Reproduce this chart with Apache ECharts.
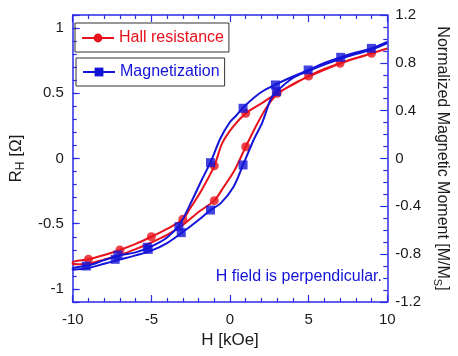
<!DOCTYPE html>
<html><head><meta charset="utf-8">
<script src="https://cdn.jsdelivr.net/npm/echarts@6/dist/echarts.min.js"></script>
<style>html,body{margin:0;padding:0;background:#fff}#c{width:458px;height:356px}</style>
</head><body><div id="c"></div>
<script>
// Hall resistance loop (left axis, Ohm)
const hallDownH = [10, 9, 8, 7, 6, 5, 4, 3, 2, 1, 0.2, -0.5, -1, -1.8, -2.6, -3, -4, -5, -6, -7, -8, -9, -10];
const hallDownR = [0.844, 0.806, 0.77, 0.73, 0.686, 0.632, 0.567, 0.50, 0.423, 0.346, 0.244, 0.116, -0.057, -0.241, -0.395, -0.466, -0.54, -0.60, -0.655, -0.701, -0.74, -0.772, -0.793];
const hallUpH = [-10, -9, -8, -7, -6, -5, -4, -3, -2, -1, -0.4, 0.3, 1, 1.75, 2.35, 3, 4, 5, 6, 7, 8, 9, 10];
const hallUpR = [-0.81, -0.806, -0.775, -0.74, -0.695, -0.644, -0.586, -0.51, -0.41, -0.323, -0.218, -0.088, 0.09, 0.27, 0.397, 0.492, 0.571, 0.628, 0.68, 0.728, 0.768, 0.805, 0.843];
const hallMarkH = [9, 7, 5, 3, 1, -1, -3, -5, -7, -9, -1, 1];
const hallMarkR = [0.806, 0.73, 0.632, 0.50, 0.346, -0.057, -0.466, -0.60, -0.701, -0.772, -0.323, 0.09];

// Magnetization loop (right axis, M/Ms)
const magDownH = [10, 9, 8, 7, 6, 5, 4, 3, 2, 1, 0.4, 0, -0.6, -1.25, -1.8, -2.4, -3.2, -4, -5, -6, -7, -8, -9, -10];
const magDownM = [0.974, 0.921, 0.886, 0.846, 0.80, 0.74, 0.686, 0.625, 0.556, 0.447, 0.36, 0.305, 0.171, -0.035, -0.18, -0.347, -0.55, -0.66, -0.735, -0.785, -0.81, -0.85, -0.895, -0.916];
const magUpH = [-10, -9, -8, -7, -6, -5, -4, -3, -2, -1.24, -0.6, 0.23, 0.83, 1.5, 2.05, 2.6, 3, 4, 5, 6, 7, 8, 9, 10];
const magUpM = [-0.93, -0.915, -0.88, -0.845, -0.81, -0.77, -0.707, -0.615, -0.514, -0.431, -0.375, -0.236, -0.054, 0.155, 0.30, 0.50, 0.565, 0.673, 0.732, 0.785, 0.832, 0.873, 0.911, 0.966];
const magMarkH = [8.99, 7.04, 4.97, 2.89, 0.83, -1.24, -3.25, -5.26, -7.12, -9.14, -7.3, -5.2, -3.1, -1.24, 0.83, 2.95];
const magMarkM = [0.921, 0.846, 0.74, 0.615, 0.42, -0.035, -0.57, -0.742, -0.807, -0.899, -0.843, -0.76, -0.62, -0.431, -0.054, 0.559];

// Tick label settings
const leftTicks = [-1, -0.5, 0, 0.5, 1];
const rightTicks = [-1.2, -0.8, -0.4, 0, 0.4, 0.8, 1.2];
const xTicks = [-10, -5, 0, 5, 10];

const FONT = '"Liberation Sans", Arial, sans-serif';
const RED = '#e8121c', BLUE = '#1414d8', AXIS = '#2b2be6', TXT = '#1a1a1a';
const zip = (a, b) => a.map((v, i) => [v, b[i]]);
const hallLoop = zip(hallDownH, hallDownR).concat(zip(hallUpH, hallUpR));
const magLoop = zip(magDownH, magDownM).concat(zip(magUpH, magUpM));

const chart = echarts.init(document.getElementById('c'));
const axLine = {show: true, onZero: false, lineStyle: {color: AXIS, width: 1.5}};
const majTick = {show: true, inside: true, length: 7, lineStyle: {color: AXIS, width: 1.2}};
const minTickX = {show: true, splitNumber: 5, length: 4, lineStyle: {color: AXIS, width: 1.2}};
const near = (v, arr) => arr.some(t => Math.abs(t - v) < 1e-6);

chart.setOption({
  animation: false,
  backgroundColor: '#fff',
  grid: {left: 59, right: 68, top: 15, bottom: 54, containLabel: false},
  legend: [
    {data: ['Hall resistance'], left: 75, top: 23, orient: 'horizontal', itemWidth: 32, itemHeight: 11,
     padding: [7, 5, 6, 6], borderColor: '#333', borderWidth: 1, selectedMode: false,
     textStyle: {color: RED, fontSize: 16, fontFamily: FONT}},
    {data: ['Magnetization'], left: 76, top: 58, orient: 'horizontal', itemWidth: 32, itemHeight: 11,
     padding: [6, 5, 6, 6], borderColor: '#333', borderWidth: 1, selectedMode: false,
     textStyle: {color: BLUE, fontSize: 16, fontFamily: FONT}}
  ],
  xAxis: [
    {type: 'value', position: 'bottom', min: -10, max: 10, interval: 5,
     axisLine: axLine, axisTick: majTick, minorTick: minTickX, splitLine: {show: false},
     axisLabel: {fontSize: 15, fontFamily: FONT, color: TXT, margin: 10,
       formatter: v => near(v, xTicks) ? String(v) : ''},
     name: 'H [kOe]', nameLocation: 'middle', nameGap: 23,
     nameTextStyle: {fontSize: 17, fontFamily: FONT, color: TXT}},
    {type: 'value', position: 'top', min: -10, max: 10, interval: 5,
     axisLine: axLine, axisTick: majTick, minorTick: minTickX, splitLine: {show: false},
     axisLabel: {show: false}}
  ],
  yAxis: [
    {type: 'value', position: 'left', min: -1.1, max: 1.1, splitNumber: 4,
     axisLine: axLine, axisTick: majTick, splitLine: {show: false},
     axisLabel: {fontSize: 15, fontFamily: FONT, color: TXT, margin: 9,
       formatter: v => near(v, leftTicks) ? String(+v.toFixed(1)) : ''},
     name: '{m|R}{s|H}{m| [Ω]}', nameLocation: 'middle', nameGap: 30, nameRotate: 90,
     nameTextStyle: {fontFamily: FONT, color: TXT,
       rich: {m: {fontSize: 17, fontFamily: FONT, color: TXT}, s: {fontSize: 12, fontFamily: FONT, color: TXT, padding: [9, 0, 0, 0]}}}},
    {type: 'value', position: 'right', min: -1.2, max: 1.2, interval: 0.4,
     axisLine: axLine, axisTick: majTick, splitLine: {show: false},
     minorTick: {show: true, splitNumber: 4, length: 4, lineStyle: {color: AXIS, width: 1.2}},
     axisLabel: {fontSize: 15, fontFamily: FONT, color: TXT, margin: 8,
       formatter: v => near(v, rightTicks) ? String(+v.toFixed(1)) : ''},
     name: '{m|Normalized Magnetic Moment [M/M}{s|S}{m|]}', nameLocation: 'middle', nameGap: 40, nameRotate: -90,
     nameTextStyle: {fontFamily: FONT, color: TXT,
       rich: {m: {fontSize: 16, fontFamily: FONT, color: TXT}, s: {fontSize: 11, fontFamily: FONT, color: TXT, padding: [9, 0, 0, 0]}}}},
    {type: 'value', position: 'left', min: -1.1, max: 1.1, interval: 0.1,
     axisLine: {show: false, onZero: false}, axisLabel: {show: false}, splitLine: {show: false},
     axisTick: {show: true, inside: true, length: 4, lineStyle: {color: AXIS, width: 1.2}}}
  ],
  graphic: [
    {type: 'text', right: 76, top: 269, style: {text: 'H field is perpendicular.', fill: BLUE, font: '16px "Liberation Sans", Arial, sans-serif'}}
  ],
  series: [
    {name: 'Hall resistance', type: 'line', xAxisIndex: 0, yAxisIndex: 0, data: hallLoop,
     showSymbol: false, symbol: 'circle', symbolSize: 9, smooth: 0.3,
     lineStyle: {color: RED, width: 2}, itemStyle: {color: RED}, z: 2},
    {name: 'Hall resistance', type: 'scatter', xAxisIndex: 0, yAxisIndex: 0, data: zip(hallMarkH, hallMarkR),
     symbol: 'circle', symbolSize: 9, itemStyle: {color: RED}, z: 3},
    {name: 'Magnetization', type: 'line', xAxisIndex: 0, yAxisIndex: 1, data: magLoop,
     showSymbol: false, symbol: 'rect', symbolSize: 9, smooth: 0.3,
     lineStyle: {color: BLUE, width: 2}, itemStyle: {color: BLUE}, z: 4},
    {name: 'Magnetization', type: 'scatter', xAxisIndex: 0, yAxisIndex: 1, data: zip(magMarkH, magMarkM),
     symbol: 'rect', symbolSize: 9, itemStyle: {color: BLUE}, z: 5}
  ]
});
</script></body></html>
